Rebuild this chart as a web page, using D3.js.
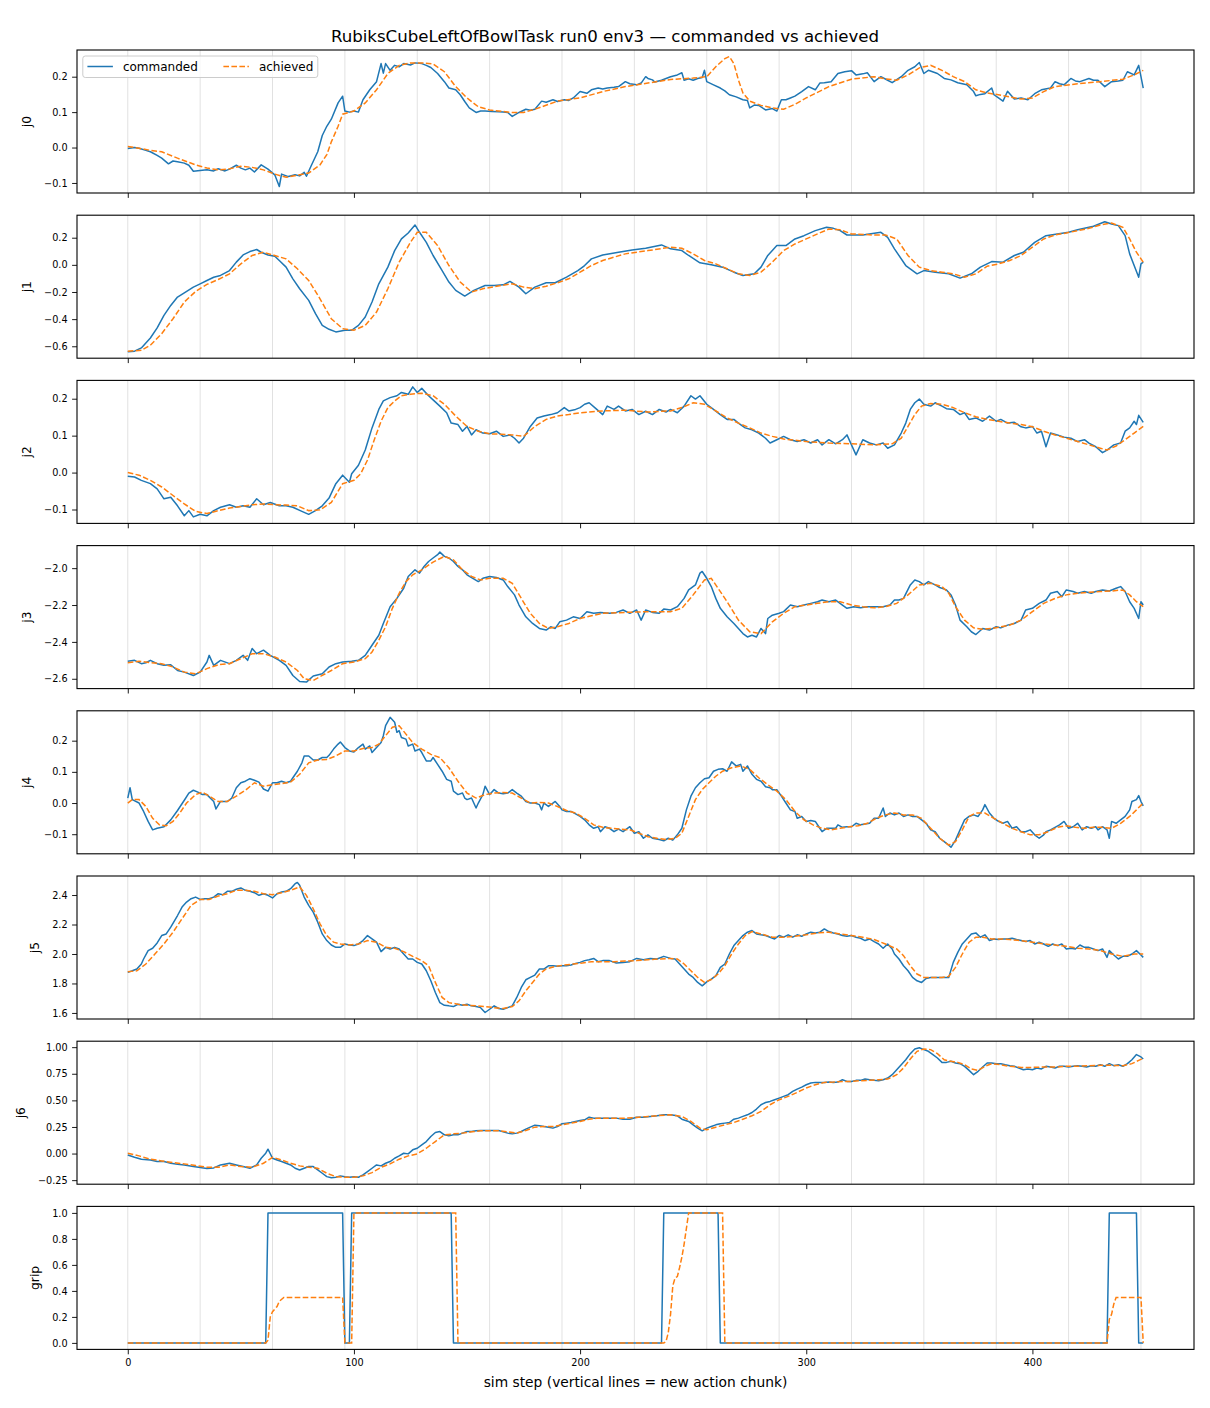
<!DOCTYPE html>
<html>
<head>
<meta charset="utf-8">
<title>commanded vs achieved</title>
<script src="https://d3js.org/d3.v7.min.js"></script>
<style>
  body { margin: 0; background: #fff; }
  svg { font-family: "DejaVu Sans", sans-serif; }
</style>
</head>
<body>
<div id="chart"></div>
<script>
// ---- data: [sim step, value] ----
const j0Cmd = [[0,-0.003],[3,0.0],[5,-0.002],[8,-0.008],[10,-0.012],[13,-0.022],[15,-0.03],[18,-0.046],[20,-0.038],[22,-0.04],[25,-0.044],[27,-0.05],[29,-0.067],[32,-0.065],[35,-0.063],[38,-0.066],[40,-0.06],[43,-0.066],[45,-0.061],[48,-0.05],[50,-0.058],[52,-0.063],[54,-0.058],[56,-0.069],[59,-0.049],[62,-0.061],[65,-0.077],[67,-0.11],[68,-0.075],[71,-0.082],[74,-0.077],[76,-0.08],[78,-0.07],[79,-0.081],[81,-0.053],[84,-0.012],[86,0.034],[88,0.06],[90,0.08],[93,0.126],[95,0.145],[96,0.103],[98,0.1],[100,0.103],[102,0.1],[104,0.135],[107,0.163],[110,0.186],[112,0.237],[113,0.21],[114,0.237],[116,0.218],[118,0.232],[120,0.228],[122,0.237],[125,0.233],[127,0.239],[130,0.237],[132,0.232],[134,0.226],[137,0.209],[140,0.186],[142,0.168],[145,0.163],[147,0.149],[149,0.13],[151,0.112],[154,0.099],[156,0.103],[158,0.103],[161,0.102],[164,0.101],[166,0.1],[168,0.099],[170,0.088],[173,0.099],[176,0.108],[178,0.105],[180,0.108],[183,0.131],[185,0.128],[188,0.135],[190,0.13],[193,0.135],[195,0.133],[197,0.14],[200,0.158],[203,0.153],[205,0.163],[208,0.168],[210,0.165],[212,0.168],[215,0.17],[217,0.172],[220,0.186],[222,0.18],[225,0.177],[227,0.182],[229,0.2],[230,0.195],[232,0.191],[233,0.185],[236,0.19],[240,0.2],[243,0.205],[245,0.211],[246,0.19],[248,0.194],[250,0.19],[252,0.195],[254,0.198],[255,0.218],[256,0.186],[259,0.177],[262,0.168],[264,0.16],[266,0.149],[269,0.143],[272,0.135],[274,0.133],[275,0.112],[277,0.12],[279,0.119],[282,0.106],[285,0.11],[287,0.103],[289,0.135],[291,0.135],[293,0.14],[295,0.145],[298,0.158],[301,0.172],[304,0.163],[306,0.182],[308,0.183],[311,0.186],[314,0.209],[317,0.214],[320,0.217],[322,0.205],[325,0.208],[327,0.211],[330,0.186],[333,0.2],[336,0.19],[338,0.183],[342,0.2],[345,0.218],[348,0.228],[350,0.24],[352,0.209],[354,0.218],[358,0.209],[361,0.195],[364,0.191],[367,0.183],[371,0.177],[374,0.158],[375,0.146],[377,0.15],[379,0.152],[382,0.168],[383,0.149],[385,0.14],[387,0.131],[389,0.159],[392,0.137],[395,0.14],[398,0.135],[401,0.152],[404,0.163],[408,0.168],[410,0.186],[412,0.18],[414,0.177],[417,0.195],[419,0.188],[421,0.186],[425,0.195],[427,0.19],[429,0.19],[432,0.172],[435,0.186],[438,0.188],[440,0.19],[442,0.214],[445,0.205],[447,0.232],[448,0.2],[449,0.168]];
const j0Ach = [[0,0.003],[5,-0.002],[10,-0.008],[15,-0.012],[22,-0.03],[30,-0.049],[35,-0.058],[40,-0.063],[45,-0.06],[50,-0.053],[55,-0.056],[60,-0.063],[65,-0.075],[70,-0.084],[75,-0.078],[80,-0.072],[85,-0.049],[88,-0.02],[90,0.016],[93,0.06],[95,0.094],[100,0.103],[105,0.126],[110,0.163],[115,0.209],[120,0.232],[125,0.239],[130,0.239],[135,0.236],[140,0.214],[145,0.172],[150,0.14],[155,0.115],[160,0.106],[170,0.099],[175,0.099],[180,0.108],[190,0.131],[200,0.14],[210,0.158],[220,0.172],[230,0.182],[240,0.192],[250,0.196],[256,0.2],[260,0.228],[264,0.251],[266,0.257],[268,0.237],[270,0.191],[272,0.154],[275,0.131],[280,0.119],[285,0.112],[290,0.108],[295,0.122],[300,0.14],[310,0.172],[320,0.193],[330,0.2],[335,0.194],[340,0.19],[345,0.205],[350,0.225],[355,0.232],[360,0.218],[365,0.2],[370,0.186],[375,0.163],[380,0.154],[385,0.149],[390,0.143],[395,0.137],[400,0.14],[405,0.158],[410,0.172],[420,0.18],[430,0.186],[440,0.193],[445,0.205],[449,0.218]];

const j1Cmd = [[0,-0.64],[3,-0.636],[6,-0.612],[10,-0.539],[13,-0.465],[16,-0.372],[19,-0.299],[22,-0.237],[25,-0.206],[29,-0.164],[32,-0.14],[35,-0.115],[38,-0.091],[41,-0.078],[45,-0.042],[48,0.02],[51,0.073],[54,0.098],[57,0.113],[59,0.093],[62,0.073],[65,0.064],[67,0.032],[70,-0.017],[73,-0.103],[76,-0.176],[80,-0.262],[83,-0.36],[86,-0.446],[89,-0.475],[92,-0.494],[96,-0.482],[99,-0.482],[102,-0.446],[105,-0.384],[108,-0.274],[111,-0.14],[115,-0.017],[118,0.105],[121,0.191],[124,0.235],[127,0.294],[129,0.24],[132,0.166],[135,0.069],[139,-0.042],[142,-0.127],[145,-0.188],[149,-0.23],[153,-0.188],[158,-0.152],[162,-0.152],[166,-0.147],[169,-0.122],[173,-0.164],[176,-0.213],[180,-0.164],[185,-0.132],[189,-0.132],[194,-0.091],[199,-0.042],[202,-0.005],[205,0.044],[210,0.073],[217,0.093],[223,0.11],[229,0.122],[236,0.147],[240,0.118],[245,0.105],[248,0.069],[253,0.015],[258,0.0],[263,-0.017],[268,-0.054],[272,-0.078],[277,-0.066],[280,-0.017],[283,0.069],[287,0.142],[291,0.142],[295,0.191],[299,0.215],[304,0.252],[309,0.277],[312,0.269],[315,0.252],[318,0.22],[325,0.22],[333,0.24],[336,0.203],[339,0.118],[344,-0.005],[349,-0.066],[352,-0.042],[357,-0.054],[363,-0.066],[368,-0.098],[373,-0.066],[377,-0.017],[382,0.024],[387,0.02],[392,0.069],[396,0.093],[401,0.166],[406,0.215],[411,0.228],[416,0.24],[420,0.259],[427,0.284],[432,0.318],[435,0.301],[438,0.289],[441,0.215],[443,0.081],[447,-0.091],[448,0.007],[449,0.02]];
const j1Ach = [[0,-0.636],[6,-0.63],[10,-0.592],[15,-0.507],[20,-0.397],[25,-0.274],[30,-0.196],[35,-0.144],[40,-0.108],[45,-0.066],[50,0.007],[55,0.069],[60,0.093],[65,0.069],[70,0.044],[75,-0.029],[80,-0.115],[85,-0.25],[90,-0.397],[95,-0.47],[100,-0.482],[105,-0.446],[110,-0.348],[115,-0.176],[120,0.02],[125,0.166],[128,0.24],[132,0.24],[137,0.142],[142,-0.005],[147,-0.127],[152,-0.2],[157,-0.176],[165,-0.152],[170,-0.14],[175,-0.164],[180,-0.176],[185,-0.157],[190,-0.132],[195,-0.103],[200,-0.054],[205,-0.005],[210,0.032],[220,0.081],[230,0.105],[240,0.13],[245,0.122],[250,0.081],[255,0.032],[260,0.007],[265,-0.029],[270,-0.066],[275,-0.078],[280,-0.054],[285,0.02],[290,0.105],[295,0.154],[300,0.191],[305,0.228],[310,0.264],[315,0.259],[320,0.228],[330,0.22],[335,0.22],[340,0.191],[345,0.069],[350,-0.017],[355,-0.042],[360,-0.054],[365,-0.066],[370,-0.091],[375,-0.066],[380,-0.01],[385,0.007],[390,0.032],[395,0.069],[400,0.13],[405,0.191],[410,0.22],[415,0.235],[420,0.252],[425,0.269],[430,0.294],[435,0.308],[440,0.277],[443,0.191],[446,0.093],[449,0.02]];

const j2Cmd = [[0,-0.01],[3,-0.012],[6,-0.021],[10,-0.03],[13,-0.044],[16,-0.071],[19,-0.067],[22,-0.09],[25,-0.117],[27,-0.103],[29,-0.12],[32,-0.113],[35,-0.117],[38,-0.103],[41,-0.094],[45,-0.087],[48,-0.094],[51,-0.09],[54,-0.094],[57,-0.071],[60,-0.087],[63,-0.081],[67,-0.09],[70,-0.09],[73,-0.094],[77,-0.105],[80,-0.113],[83,-0.103],[86,-0.09],[89,-0.069],[92,-0.03],[95,-0.007],[98,-0.026],[99,-0.003],[102,0.02],[105,0.061],[108,0.121],[111,0.171],[113,0.194],[116,0.203],[119,0.208],[121,0.217],[124,0.212],[126,0.232],[128,0.217],[130,0.228],[133,0.208],[135,0.197],[138,0.18],[141,0.162],[143,0.134],[146,0.13],[148,0.112],[150,0.125],[152,0.102],[154,0.116],[157,0.107],[160,0.105],[163,0.112],[166,0.098],[169,0.102],[171,0.093],[173,0.08],[175,0.093],[178,0.125],[181,0.148],[184,0.153],[187,0.157],[190,0.162],[193,0.176],[195,0.167],[198,0.171],[200,0.176],[202,0.185],[204,0.189],[207,0.173],[210,0.157],[212,0.18],[215,0.171],[217,0.18],[220,0.167],[223,0.171],[226,0.157],[229,0.166],[232,0.157],[235,0.171],[238,0.164],[240,0.171],[243,0.162],[246,0.18],[249,0.208],[251,0.199],[253,0.208],[256,0.185],[259,0.171],[262,0.157],[265,0.144],[268,0.144],[270,0.134],[273,0.121],[276,0.116],[279,0.107],[282,0.093],[284,0.08],[287,0.089],[290,0.098],[293,0.089],[296,0.084],[299,0.089],[302,0.08],[305,0.089],[307,0.075],[310,0.089],[313,0.078],[316,0.089],[318,0.102],[320,0.075],[322,0.048],[325,0.089],[328,0.08],[331,0.075],[334,0.08],[336,0.066],[339,0.075],[342,0.107],[344,0.134],[346,0.171],[348,0.189],[350,0.199],[352,0.185],[355,0.18],[357,0.189],[360,0.18],[362,0.173],[365,0.171],[368,0.157],[370,0.162],[372,0.144],[375,0.148],[378,0.139],[381,0.153],[384,0.139],[386,0.144],[389,0.134],[392,0.136],[395,0.124],[397,0.121],[400,0.125],[402,0.107],[404,0.112],[406,0.07],[408,0.107],[411,0.102],[414,0.096],[417,0.093],[420,0.084],[423,0.089],[425,0.08],[428,0.07],[431,0.054],[433,0.061],[436,0.075],[439,0.08],[441,0.112],[443,0.121],[445,0.139],[446,0.13],[447,0.155],[449,0.136]];
const j2Ach = [[0,0],[5,-0.007],[10,-0.021],[15,-0.039],[20,-0.062],[25,-0.085],[30,-0.105],[35,-0.111],[40,-0.103],[45,-0.096],[50,-0.092],[55,-0.087],[60,-0.085],[65,-0.087],[70,-0.088],[75,-0.09],[80,-0.103],[85,-0.101],[90,-0.081],[95,-0.03],[100,-0.021],[103,-0.003],[106,0.034],[109,0.089],[112,0.139],[115,0.176],[118,0.194],[121,0.208],[125,0.212],[130,0.215],[135,0.208],[140,0.185],[145,0.153],[150,0.125],[155,0.112],[160,0.105],[165,0.104],[170,0.102],[175,0.098],[180,0.125],[185,0.144],[190,0.153],[195,0.157],[200,0.162],[210,0.167],[220,0.169],[230,0.164],[240,0.167],[245,0.176],[250,0.189],[255,0.185],[260,0.167],[265,0.148],[270,0.134],[275,0.121],[280,0.107],[285,0.098],[290,0.091],[300,0.084],[310,0.08],[320,0.078],[330,0.075],[338,0.078],[342,0.093],[345,0.125],[348,0.157],[351,0.18],[355,0.187],[360,0.185],[365,0.176],[370,0.162],[375,0.151],[380,0.144],[385,0.139],[390,0.134],[395,0.13],[400,0.124],[405,0.112],[410,0.102],[415,0.093],[420,0.084],[425,0.075],[430,0.066],[433,0.061],[437,0.072],[441,0.089],[445,0.107],[449,0.125]];

const j3Cmd = [[0,-2.505],[3,-2.5],[6,-2.518],[8,-2.513],[10,-2.5],[13,-2.518],[16,-2.527],[19,-2.524],[22,-2.555],[25,-2.564],[29,-2.582],[32,-2.564],[35,-2.509],[36,-2.473],[38,-2.527],[41,-2.5],[45,-2.518],[48,-2.5],[51,-2.473],[53,-2.5],[55,-2.436],[57,-2.464],[60,-2.445],[63,-2.473],[67,-2.5],[70,-2.527],[73,-2.582],[76,-2.615],[79,-2.618],[82,-2.585],[86,-2.573],[89,-2.536],[92,-2.518],[95,-2.509],[99,-2.505],[102,-2.5],[105,-2.473],[108,-2.418],[111,-2.364],[113,-2.3],[116,-2.209],[119,-2.164],[122,-2.109],[124,-2.045],[127,-2.009],[129,-2.027],[131,-1.991],[133,-1.964],[135,-1.945],[137,-1.927],[138,-1.913],[140,-1.936],[142,-1.945],[144,-1.964],[146,-1.991],[148,-2.009],[150,-2.036],[152,-2.051],[155,-2.073],[157,-2.055],[160,-2.045],[163,-2.051],[166,-2.064],[168,-2.1],[171,-2.145],[173,-2.2],[176,-2.264],[179,-2.3],[182,-2.327],[185,-2.336],[187,-2.318],[189,-2.327],[191,-2.291],[194,-2.282],[197,-2.264],[200,-2.273],[203,-2.236],[206,-2.245],[209,-2.24],[213,-2.245],[216,-2.24],[219,-2.227],[222,-2.245],[225,-2.227],[227,-2.282],[229,-2.227],[232,-2.24],[235,-2.245],[237,-2.222],[240,-2.227],[243,-2.209],[246,-2.164],[248,-2.118],[251,-2.091],[253,-2.027],[254,-2.018],[256,-2.055],[258,-2.1],[260,-2.164],[262,-2.218],[265,-2.264],[268,-2.3],[270,-2.327],[272,-2.355],[274,-2.373],[276,-2.364],[278,-2.373],[280,-2.327],[282,-2.355],[283,-2.273],[285,-2.255],[288,-2.245],[290,-2.236],[293,-2.2],[296,-2.209],[299,-2.2],[302,-2.191],[305,-2.182],[307,-2.173],[310,-2.182],[313,-2.173],[316,-2.2],[318,-2.218],[321,-2.209],[324,-2.215],[327,-2.209],[331,-2.209],[334,-2.209],[337,-2.2],[339,-2.173],[341,-2.173],[343,-2.164],[346,-2.091],[348,-2.064],[350,-2.073],[352,-2.091],[354,-2.073],[357,-2.091],[359,-2.105],[362,-2.118],[364,-2.145],[366,-2.2],[368,-2.282],[371,-2.318],[373,-2.345],[375,-2.36],[378,-2.327],[381,-2.336],[384,-2.318],[386,-2.324],[389,-2.309],[392,-2.3],[395,-2.282],[397,-2.227],[400,-2.218],[403,-2.191],[406,-2.173],[408,-2.136],[411,-2.127],[413,-2.155],[415,-2.118],[418,-2.127],[420,-2.136],[423,-2.127],[426,-2.136],[428,-2.127],[431,-2.118],[434,-2.124],[437,-2.109],[439,-2.1],[441,-2.127],[443,-2.182],[445,-2.218],[447,-2.273],[448,-2.182],[449,-2.2]];
const j3Ach = [[0,-2.513],[5,-2.505],[10,-2.513],[15,-2.518],[20,-2.536],[25,-2.564],[30,-2.573],[35,-2.545],[40,-2.524],[45,-2.518],[50,-2.491],[55,-2.464],[60,-2.464],[65,-2.482],[70,-2.509],[75,-2.555],[78,-2.6],[82,-2.609],[86,-2.582],[90,-2.555],[95,-2.518],[100,-2.509],[105,-2.491],[108,-2.455],[111,-2.391],[114,-2.318],[117,-2.218],[120,-2.136],[123,-2.073],[126,-2.036],[130,-2.009],[135,-1.967],[140,-1.936],[144,-1.955],[148,-2.009],[152,-2.045],[156,-2.064],[160,-2.055],[166,-2.055],[170,-2.082],[174,-2.164],[178,-2.245],[182,-2.3],[186,-2.327],[190,-2.318],[195,-2.3],[200,-2.273],[205,-2.258],[210,-2.245],[220,-2.24],[230,-2.236],[240,-2.236],[245,-2.218],[250,-2.145],[255,-2.064],[258,-2.055],[261,-2.109],[265,-2.182],[270,-2.282],[275,-2.345],[280,-2.355],[285,-2.291],[290,-2.245],[295,-2.209],[300,-2.2],[305,-2.191],[310,-2.182],[315,-2.182],[320,-2.2],[325,-2.209],[330,-2.215],[335,-2.209],[340,-2.191],[345,-2.145],[350,-2.091],[355,-2.082],[360,-2.1],[363,-2.136],[366,-2.209],[370,-2.282],[374,-2.324],[378,-2.331],[382,-2.327],[386,-2.318],[390,-2.309],[395,-2.282],[400,-2.236],[405,-2.191],[410,-2.164],[415,-2.145],[420,-2.136],[425,-2.131],[430,-2.127],[435,-2.124],[440,-2.118],[443,-2.145],[446,-2.182],[449,-2.209]];

const j4Cmd = [[0,0.016],[1,0.049],[2,0.011],[5,0.0],[7,-0.027],[9,-0.059],[11,-0.086],[13,-0.081],[16,-0.076],[19,-0.054],[22,-0.024],[25,0.009],[27,0.032],[29,0.041],[31,0.035],[33,0.027],[35,0.027],[38,0.005],[39,-0.019],[41,0.005],[44,0.005],[46,0.016],[48,0.049],[50,0.065],[52,0.07],[54,0.078],[56,0.073],[58,0.067],[60,0.045],[62,0.038],[64,0.065],[66,0.065],[68,0.07],[70,0.065],[72,0.07],[73,0.081],[75,0.102],[77,0.129],[78,0.151],[80,0.151],[82,0.138],[84,0.138],[86,0.146],[88,0.146],[89,0.153],[91,0.173],[93,0.189],[94,0.196],[96,0.178],[98,0.167],[100,0.164],[102,0.178],[104,0.189],[105,0.173],[107,0.183],[108,0.162],[110,0.178],[112,0.194],[113,0.216],[114,0.248],[116,0.275],[118,0.259],[119,0.227],[120,0.232],[121,0.21],[123,0.205],[124,0.183],[126,0.189],[127,0.167],[129,0.173],[130,0.162],[132,0.135],[134,0.135],[135,0.146],[137,0.124],[139,0.102],[141,0.076],[143,0.07],[144,0.038],[146,0.027],[148,0.032],[149,0.016],[150,0.011],[152,0.016],[153,0.0],[154,-0.016],[155,0.0],[157,0.027],[158,0.054],[160,0.027],[162,0.043],[164,0.032],[166,0.03],[168,0.032],[170,0.043],[172,0.032],[174,0.022],[176,0.005],[178,0.0],[180,0.0],[182,-0.005],[183,-0.022],[184,0.0],[186,-0.011],[188,0.0],[189,0.005],[191,-0.011],[192,-0.022],[194,-0.027],[196,-0.027],[198,-0.035],[200,-0.043],[202,-0.054],[204,-0.07],[206,-0.081],[208,-0.076],[209,-0.092],[211,-0.076],[213,-0.081],[215,-0.092],[217,-0.084],[219,-0.092],[222,-0.076],[224,-0.097],[226,-0.092],[228,-0.113],[230,-0.102],[232,-0.113],[235,-0.117],[237,-0.121],[239,-0.113],[241,-0.119],[243,-0.102],[245,-0.081],[247,-0.022],[249,0.022],[251,0.049],[253,0.065],[255,0.078],[257,0.081],[259,0.102],[261,0.108],[263,0.11],[265,0.102],[267,0.132],[269,0.119],[271,0.124],[272,0.102],[274,0.119],[276,0.092],[278,0.076],[280,0.07],[282,0.052],[284,0.049],[285,0.043],[287,0.043],[289,0.022],[291,0.0],[293,-0.022],[295,-0.027],[296,-0.049],[298,-0.043],[300,-0.059],[302,-0.056],[304,-0.059],[306,-0.081],[307,-0.092],[309,-0.081],[311,-0.081],[313,-0.081],[314,-0.07],[316,-0.078],[318,-0.076],[320,-0.076],[322,-0.065],[324,-0.07],[326,-0.067],[328,-0.065],[330,-0.049],[332,-0.049],[334,-0.016],[335,-0.043],[337,-0.032],[339,-0.038],[341,-0.032],[343,-0.043],[345,-0.038],[347,-0.043],[349,-0.043],[351,-0.054],[353,-0.065],[355,-0.086],[357,-0.092],[359,-0.113],[361,-0.124],[363,-0.135],[364,-0.142],[366,-0.119],[368,-0.086],[370,-0.054],[372,-0.043],[374,-0.038],[376,-0.043],[378,-0.022],[379,-0.005],[381,-0.032],[383,-0.049],[385,-0.059],[387,-0.065],[389,-0.059],[391,-0.081],[393,-0.076],[395,-0.092],[397,-0.092],[399,-0.086],[401,-0.102],[403,-0.113],[405,-0.102],[406,-0.092],[408,-0.086],[410,-0.078],[412,-0.07],[414,-0.059],[416,-0.081],[418,-0.076],[420,-0.065],[422,-0.086],[424,-0.076],[426,-0.081],[428,-0.076],[429,-0.086],[431,-0.076],[433,-0.086],[434,-0.113],[435,-0.059],[437,-0.065],[439,-0.054],[441,-0.043],[443,-0.022],[444,0.005],[446,0.011],[447,0.024],[448,0.005],[449,-0.009]];
const j4Ach = [[0,0],[2,0.011],[5,0.011],[8,-0.011],[11,-0.049],[14,-0.07],[17,-0.073],[20,-0.059],[23,-0.032],[26,0],[30,0.027],[33,0.035],[36,0.022],[40,0.005],[44,0.005],[48,0.022],[52,0.041],[56,0.065],[60,0.054],[64,0.059],[68,0.062],[72,0.067],[76,0.092],[80,0.129],[84,0.138],[88,0.14],[92,0.151],[96,0.167],[100,0.167],[104,0.175],[108,0.178],[111,0.189],[114,0.216],[117,0.243],[120,0.248],[123,0.221],[126,0.194],[130,0.173],[134,0.156],[138,0.146],[142,0.113],[146,0.07],[150,0.032],[154,0.016],[158,0.027],[162,0.032],[166,0.034],[170,0.032],[174,0.016],[178,0],[182,0.002],[186,0],[190,-0.011],[194,-0.024],[198,-0.032],[202,-0.049],[206,-0.07],[210,-0.078],[214,-0.081],[218,-0.084],[222,-0.086],[226,-0.097],[230,-0.108],[234,-0.113],[238,-0.117],[242,-0.113],[245,-0.097],[248,-0.043],[251,0.011],[254,0.043],[257,0.065],[260,0.086],[263,0.102],[267,0.113],[271,0.119],[275,0.108],[279,0.081],[283,0.059],[287,0.038],[291,0.011],[295,-0.027],[299,-0.054],[303,-0.07],[307,-0.081],[311,-0.086],[315,-0.081],[319,-0.076],[323,-0.073],[327,-0.065],[331,-0.049],[335,-0.038],[339,-0.032],[343,-0.038],[347,-0.038],[351,-0.049],[355,-0.081],[359,-0.113],[363,-0.135],[366,-0.124],[369,-0.086],[372,-0.043],[375,-0.032],[379,-0.032],[383,-0.049],[387,-0.065],[391,-0.081],[395,-0.092],[399,-0.102],[403,-0.102],[407,-0.092],[411,-0.078],[415,-0.073],[419,-0.078],[423,-0.081],[427,-0.078],[431,-0.078],[435,-0.081],[439,-0.065],[443,-0.043],[446,-0.022],[449,0]];

const j5Cmd = [[0,1.875],[2,1.886],[4,1.898],[6,1.932],[7,1.966],[9,2.023],[11,2.039],[13,2.075],[15,2.125],[17,2.136],[19,2.182],[22,2.261],[24,2.318],[26,2.352],[28,2.375],[30,2.386],[32,2.37],[34,2.375],[36,2.375],[38,2.386],[40,2.409],[42,2.402],[44,2.425],[46,2.425],[48,2.439],[50,2.448],[52,2.432],[54,2.425],[56,2.416],[58,2.398],[60,2.409],[62,2.398],[64,2.38],[66,2.409],[68,2.42],[70,2.425],[72,2.443],[74,2.477],[75,2.485],[76,2.466],[78,2.386],[80,2.33],[82,2.284],[84,2.216],[86,2.136],[88,2.091],[90,2.061],[92,2.045],[94,2.045],[96,2.068],[98,2.061],[100,2.057],[102,2.068],[104,2.091],[106,2.125],[108,2.102],[110,2.08],[112,2.016],[114,2.045],[116,2.034],[118,2.045],[120,2.034],[122,2.0],[124,1.966],[126,1.966],[128,1.943],[130,1.932],[132,1.886],[134,1.818],[136,1.739],[138,1.67],[140,1.652],[142,1.648],[144,1.643],[146,1.659],[148,1.652],[150,1.659],[152,1.648],[154,1.643],[156,1.636],[158,1.603],[160,1.625],[162,1.648],[164,1.63],[166,1.625],[168,1.636],[170,1.648],[172,1.705],[174,1.773],[176,1.825],[178,1.841],[180,1.857],[182,1.898],[184,1.898],[186,1.92],[188,1.92],[190,1.916],[192,1.92],[194,1.92],[196,1.925],[198,1.936],[200,1.943],[202,1.955],[204,1.961],[206,1.97],[208,1.948],[210,1.955],[213,1.955],[216,1.939],[219,1.943],[222,1.948],[225,1.97],[228,1.961],[231,1.97],[234,1.966],[237,1.984],[240,1.97],[242,1.966],[244,1.932],[246,1.898],[248,1.864],[250,1.841],[252,1.807],[254,1.784],[256,1.811],[258,1.83],[260,1.852],[262,1.909],[264,1.932],[266,2.0],[268,2.057],[270,2.091],[272,2.125],[274,2.148],[276,2.159],[278,2.136],[280,2.13],[282,2.125],[284,2.114],[286,2.102],[288,2.125],[290,2.114],[292,2.13],[294,2.114],[296,2.13],[298,2.12],[300,2.136],[302,2.148],[304,2.143],[306,2.148],[308,2.17],[310,2.152],[312,2.143],[314,2.136],[316,2.125],[318,2.12],[320,2.125],[322,2.114],[324,2.107],[326,2.091],[328,2.102],[330,2.084],[332,2.068],[334,2.039],[336,2.068],[338,2.034],[339,2.0],[341,1.966],[343,1.92],[345,1.886],[347,1.841],[349,1.818],[351,1.807],[353,1.834],[355,1.841],[357,1.841],[359,1.841],[361,1.841],[363,1.841],[365,1.943],[367,2.011],[369,2.068],[371,2.102],[373,2.136],[375,2.143],[377,2.114],[379,2.13],[381,2.091],[383,2.102],[385,2.098],[387,2.102],[389,2.102],[391,2.107],[393,2.098],[395,2.091],[397,2.084],[399,2.091],[401,2.068],[403,2.08],[405,2.068],[407,2.052],[409,2.068],[411,2.057],[413,2.068],[415,2.034],[417,2.039],[419,2.034],[421,2.061],[423,2.045],[425,2.045],[427,2.034],[429,2.023],[431,2.034],[433,1.977],[434,2.023],[436,1.993],[438,1.966],[440,1.984],[442,1.984],[444,2.0],[446,2.023],[448,1.993],[449,1.977]];
const j5Ach = [[0,1.88],[4,1.886],[8,1.932],[12,2.0],[16,2.068],[20,2.148],[24,2.239],[28,2.33],[32,2.37],[36,2.37],[40,2.393],[44,2.409],[48,2.432],[52,2.432],[56,2.425],[60,2.409],[64,2.402],[68,2.416],[72,2.432],[76,2.455],[79,2.398],[82,2.307],[85,2.205],[88,2.125],[91,2.08],[94,2.068],[98,2.061],[102,2.068],[106,2.091],[110,2.08],[114,2.045],[118,2.039],[122,2.016],[126,1.984],[130,1.955],[133,1.92],[136,1.807],[139,1.705],[142,1.67],[146,1.659],[150,1.652],[154,1.648],[158,1.643],[162,1.636],[166,1.63],[170,1.643],[173,1.682],[176,1.75],[179,1.807],[182,1.864],[185,1.898],[189,1.916],[193,1.925],[197,1.932],[201,1.939],[205,1.948],[210,1.948],[215,1.948],[220,1.952],[225,1.955],[230,1.961],[235,1.966],[240,1.97],[243,1.966],[246,1.932],[249,1.886],[252,1.841],[255,1.807],[258,1.827],[261,1.864],[264,1.92],[267,2.0],[270,2.068],[273,2.125],[276,2.152],[280,2.136],[285,2.114],[290,2.114],[295,2.12],[300,2.13],[305,2.143],[310,2.148],[315,2.136],[320,2.125],[325,2.114],[330,2.098],[335,2.068],[340,2.034],[343,1.989],[346,1.92],[349,1.864],[352,1.841],[356,1.841],[360,1.841],[363,1.848],[366,1.909],[369,2.0],[372,2.08],[375,2.114],[378,2.114],[382,2.102],[386,2.102],[390,2.098],[395,2.091],[400,2.08],[405,2.068],[410,2.061],[415,2.052],[420,2.039],[425,2.034],[430,2.023],[435,2.0],[440,1.984],[445,2.0],[449,2.0]];

const j6Cmd = [[0,-0.013],[3,-0.035],[6,-0.053],[10,-0.06],[13,-0.075],[16,-0.075],[19,-0.091],[22,-0.1],[25,-0.107],[29,-0.122],[32,-0.132],[35,-0.141],[38,-0.135],[41,-0.107],[45,-0.091],[48,-0.107],[51,-0.122],[54,-0.138],[57,-0.107],[59,-0.044],[61,0.003],[62,0.041],[64,-0.044],[66,-0.06],[68,-0.075],[70,-0.091],[72,-0.107],[74,-0.138],[76,-0.154],[78,-0.138],[80,-0.122],[82,-0.122],[84,-0.154],[86,-0.185],[88,-0.217],[90,-0.227],[92,-0.223],[94,-0.21],[96,-0.217],[98,-0.223],[100,-0.217],[102,-0.223],[104,-0.201],[106,-0.17],[108,-0.138],[110,-0.107],[112,-0.116],[114,-0.091],[116,-0.075],[118,-0.044],[120,-0.022],[122,0.003],[124,-0.003],[126,0.035],[128,0.05],[130,0.082],[132,0.113],[134,0.16],[136,0.198],[138,0.207],[140,0.176],[142,0.166],[144,0.176],[146,0.176],[148,0.192],[150,0.207],[152,0.207],[154,0.214],[156,0.217],[160,0.217],[164,0.217],[166,0.204],[168,0.192],[170,0.185],[172,0.192],[174,0.207],[176,0.229],[178,0.248],[180,0.267],[182,0.261],[184,0.254],[186,0.248],[188,0.239],[190,0.254],[192,0.28],[194,0.286],[196,0.292],[198,0.302],[200,0.311],[202,0.317],[204,0.342],[206,0.333],[210,0.333],[216,0.333],[219,0.323],[222,0.323],[225,0.342],[228,0.342],[231,0.349],[234,0.355],[237,0.364],[240,0.364],[243,0.355],[245,0.323],[248,0.302],[250,0.27],[252,0.239],[254,0.214],[256,0.239],[258,0.254],[260,0.27],[262,0.28],[264,0.286],[266,0.292],[268,0.323],[270,0.333],[272,0.349],[274,0.364],[276,0.386],[278,0.418],[280,0.459],[282,0.48],[284,0.49],[286,0.506],[288,0.521],[290,0.537],[292,0.553],[294,0.584],[296,0.606],[298,0.625],[300,0.647],[302,0.663],[304,0.669],[308,0.669],[310,0.672],[312,0.669],[314,0.672],[316,0.694],[318,0.678],[320,0.678],[322,0.688],[324,0.688],[326,0.7],[328,0.694],[330,0.688],[332,0.685],[334,0.694],[336,0.71],[338,0.741],[340,0.788],[342,0.835],[344,0.882],[346,0.939],[348,0.983],[350,0.995],[352,0.977],[354,0.961],[356,0.93],[358,0.898],[360,0.857],[362,0.857],[364,0.867],[366,0.851],[368,0.845],[370,0.82],[372,0.782],[374,0.741],[376,0.773],[378,0.813],[380,0.851],[382,0.851],[384,0.845],[386,0.845],[388,0.835],[390,0.826],[392,0.82],[394,0.804],[396,0.788],[398,0.795],[400,0.788],[402,0.804],[404,0.795],[406,0.82],[408,0.813],[410,0.804],[412,0.82],[414,0.82],[416,0.813],[418,0.82],[420,0.826],[422,0.82],[424,0.813],[426,0.826],[428,0.82],[430,0.835],[432,0.82],[434,0.845],[436,0.826],[438,0.835],[440,0.82],[442,0.845],[444,0.882],[446,0.93],[448,0.908],[449,0.889]];
const j6Ach = [[0,0.003],[5,-0.022],[10,-0.053],[15,-0.069],[20,-0.085],[25,-0.097],[30,-0.113],[35,-0.129],[40,-0.129],[45,-0.107],[50,-0.122],[55,-0.129],[60,-0.091],[64,-0.035],[68,-0.06],[72,-0.091],[76,-0.116],[80,-0.129],[84,-0.138],[88,-0.185],[92,-0.217],[96,-0.223],[100,-0.223],[104,-0.21],[108,-0.179],[112,-0.129],[116,-0.097],[120,-0.053],[124,-0.022],[128,-0.003],[132,0.05],[136,0.113],[140,0.176],[144,0.185],[148,0.192],[152,0.204],[156,0.214],[160,0.214],[164,0.214],[168,0.204],[172,0.192],[176,0.217],[180,0.248],[184,0.254],[188,0.254],[192,0.27],[196,0.286],[200,0.302],[204,0.323],[208,0.333],[212,0.333],[216,0.333],[220,0.333],[225,0.339],[230,0.349],[235,0.358],[240,0.364],[245,0.349],[249,0.302],[253,0.239],[256,0.223],[260,0.248],[264,0.27],[268,0.292],[272,0.323],[276,0.355],[280,0.396],[284,0.459],[288,0.506],[292,0.537],[296,0.575],[300,0.616],[304,0.647],[308,0.669],[312,0.672],[316,0.678],[320,0.678],[324,0.685],[328,0.688],[332,0.694],[336,0.7],[340,0.741],[343,0.804],[346,0.889],[349,0.961],[352,0.983],[355,0.977],[358,0.939],[361,0.882],[364,0.867],[367,0.857],[370,0.835],[373,0.795],[376,0.782],[379,0.82],[382,0.845],[386,0.835],[390,0.82],[395,0.81],[400,0.81],[405,0.813],[410,0.813],[415,0.82],[420,0.82],[425,0.826],[430,0.829],[435,0.829],[440,0.826],[444,0.845],[447,0.876],[449,0.895]];

const gripCmd = [[0,0],[61,0],[62,1],[95,1],[96,0],[98,0],[99,1],[143,1],[144,0],[236,0],[237,1],[261,1],[262,0],[433,0],[434,1],[446,1],[447,0],[449,0]];
const gripAch = [[0,0],[61,0],[62,0.02],[63,0.2],[64,0.24],[65,0.26],[66,0.28],[67,0.32],[69,0.35],[95,0.35],[96,0],[99,0],[100,1],[145,1],[146,0],[237,0],[238,0.01],[239,0.08],[240,0.22],[241,0.44],[242,0.5],[243,0.51],[244,0.58],[245,0.66],[246,0.76],[247,0.88],[248,1],[263,1],[264,0],[433,0],[434,0.18],[435,0.22],[436,0.3],[437,0.35],[448,0.35],[449,0]];

const jointNames = ["j0", "j1", "j2", "j3", "j4", "j5", "j6", "grip"];
const commanded = [j0Cmd, j1Cmd, j2Cmd, j3Cmd, j4Cmd, j5Cmd, j6Cmd, gripCmd];
const achieved = [j0Ach, j1Ach, j2Ach, j3Ach, j4Ach, j5Ach, j6Ach, gripAch];
const yTickValues = [
  [-0.1, 0, 0.1, 0.2],
  [-0.6, -0.4, -0.2, 0, 0.2],
  [-0.1, 0, 0.1, 0.2],
  [-2.6, -2.4, -2.2, -2.0],
  [-0.1, 0, 0.1, 0.2],
  [1.6, 1.8, 2.0, 2.2, 2.4],
  [-0.25, 0, 0.25, 0.5, 0.75, 1.0],
  [0, 0.2, 0.4, 0.6, 0.8, 1.0]
];
const yTickDecimals = [1, 1, 1, 1, 1, 1, 2, 1];
const xTickValues = [0, 100, 200, 300, 400];
const chunkStarts = [0, 32, 64, 96, 128, 160, 192, 224, 256, 288, 320, 352, 384, 416, 448];
const seriesLabels = ["commanded", "achieved"];
const titleText = "RubiksCubeLeftOfBowlTask run0 env3 \u2014 commanded vs achieved";
const xLabelText = "sim step (vertical lines = new action chunk)";

// ---- layout ----
const W = 1210, H = 1408;
const left = 77, right = 1194;
const top0 = 50, panelH = 143, panelStep = 165.2;
const blue = "#1f77b4", orange = "#ff7f0e";

const svg = d3.select("#chart").append("svg")
  .attr("width", W).attr("height", H)
  .attr("viewBox", `0 0 ${W} ${H}`);

svg.append("rect").attr("width", W).attr("height", H).attr("fill", "#fff");

// shared x scale, matplotlib-style 5% margins
const allSteps = commanded.flat().map(d => d[0]);
const [xMin, xMax] = d3.extent(allSteps);
const xPad = (xMax - xMin) * 0.05;
const x = d3.scaleLinear().domain([xMin - xPad, xMax + xPad]).range([left, right]);

svg.append("text")
  .attr("x", W / 2).attr("y", 42)
  .attr("text-anchor", "middle")
  .attr("font-size", 16.6)
  .attr("fill", "#000")
  .text(titleText);

jointNames.forEach((name, i) => {
  const g = svg.append("g").attr("transform", `translate(0,${top0 + i * panelStep})`);

  const vals = commanded[i].concat(achieved[i]).map(d => d[1]);
  const [lo, hi] = d3.extent(vals);
  const pad = (hi - lo) * 0.05;
  const y = d3.scaleLinear().domain([lo - pad, hi + pad]).range([panelH, 0]);

  // action chunk boundaries
  g.selectAll("line.chunk")
    .data(chunkStarts)
    .join("line")
    .attr("class", "chunk")
    .attr("x1", d => x(d)).attr("x2", d => x(d))
    .attr("y1", 0).attr("y2", panelH)
    .attr("stroke", "#000").attr("stroke-opacity", 0.15)
    .attr("stroke-width", 0.8);

  const line = d3.line().x(d => x(d[0])).y(d => y(d[1]));

  g.append("path")
    .datum(commanded[i])
    .attr("d", line)
    .attr("fill", "none")
    .attr("stroke", blue)
    .attr("stroke-width", 1.5)
    .attr("stroke-linejoin", "round");

  g.append("path")
    .datum(achieved[i])
    .attr("d", line)
    .attr("fill", "none")
    .attr("stroke", orange)
    .attr("stroke-width", 1.5)
    .attr("stroke-dasharray", "5.6,2.4");

  // frame
  g.append("rect")
    .attr("x", left).attr("y", 0)
    .attr("width", right - left).attr("height", panelH)
    .attr("fill", "none").attr("stroke", "#000").attr("stroke-width", 1.1);

  // y axis
  const fmt = d3.format(`.${yTickDecimals[i]}f`);
  const yAxis = g.append("g")
    .attr("transform", `translate(${left},0)`)
    .call(d3.axisLeft(y).tickValues(yTickValues[i]).tickFormat(fmt).tickSize(4.9).tickPadding(4.5));
  yAxis.select(".domain").remove();
  yAxis.selectAll(".tick line").attr("stroke", "#000").attr("stroke-width", 0.9);
  yAxis.selectAll(".tick text")
    .attr("font-family", "DejaVu Sans, sans-serif")
    .attr("font-size", 9.7).attr("fill", "#000");

  // x axis (labels only on the last panel)
  const isLast = i === jointNames.length - 1;
  const xAxis = g.append("g")
    .attr("transform", `translate(0,${panelH})`)
    .call(d3.axisBottom(x).tickValues(xTickValues)
      .tickFormat(isLast ? d3.format("d") : () => "")
      .tickSize(4.9).tickPadding(4.5));
  xAxis.select(".domain").remove();
  xAxis.selectAll(".tick line").attr("stroke", "#000").attr("stroke-width", 0.9);
  xAxis.selectAll(".tick text")
    .attr("font-family", "DejaVu Sans, sans-serif")
    .attr("font-size", 9.7).attr("fill", "#000");

  // y label placed left of the widest tick label
  let maxW = 0;
  yAxis.selectAll(".tick text").each(function () {
    maxW = Math.max(maxW, this.getBBox().width);
  });
  const labelX = left - 4.9 - 4.5 - maxW - 13;
  g.append("text")
    .attr("transform", `translate(${labelX},${panelH / 2}) rotate(-90)`)
    .attr("text-anchor", "middle")
    .attr("font-size", 12.3)
    .attr("fill", "#000")
    .text(name);

  if (i === 0) {
    const lg = g.append("g").attr("transform", `translate(${left + 5.8},6)`);
    lg.append("rect")
      .attr("width", 235).attr("height", 21.5)
      .attr("rx", 2.5)
      .attr("fill", "#fff").attr("fill-opacity", 0.8)
      .attr("stroke", "#cccccc").attr("stroke-width", 1);
    const items = [
      { label: seriesLabels[0], color: blue, dash: null, x0: 4.6 },
      { label: seriesLabels[1], color: orange, dash: "5.6,2.4", x0: 140.6 }
    ];
    items.forEach(it => {
      lg.append("line")
        .attr("x1", it.x0).attr("x2", it.x0 + 25.5)
        .attr("y1", 10.5).attr("y2", 10.5)
        .attr("stroke", it.color).attr("stroke-width", 1.5)
        .attr("stroke-dasharray", it.dash);
      lg.append("text")
        .attr("x", it.x0 + 35.5).attr("y", 14.6)
        .attr("font-size", 12)
        .attr("fill", "#000")
        .text(it.label);
    });
  }

  if (isLast) {
    g.append("text")
      .attr("x", (left + right) / 2).attr("y", panelH + 38)
      .attr("text-anchor", "middle")
      .attr("font-size", 13.8)
      .attr("fill", "#000")
      .text(xLabelText);
  }
});
</script>
</body>
</html>
